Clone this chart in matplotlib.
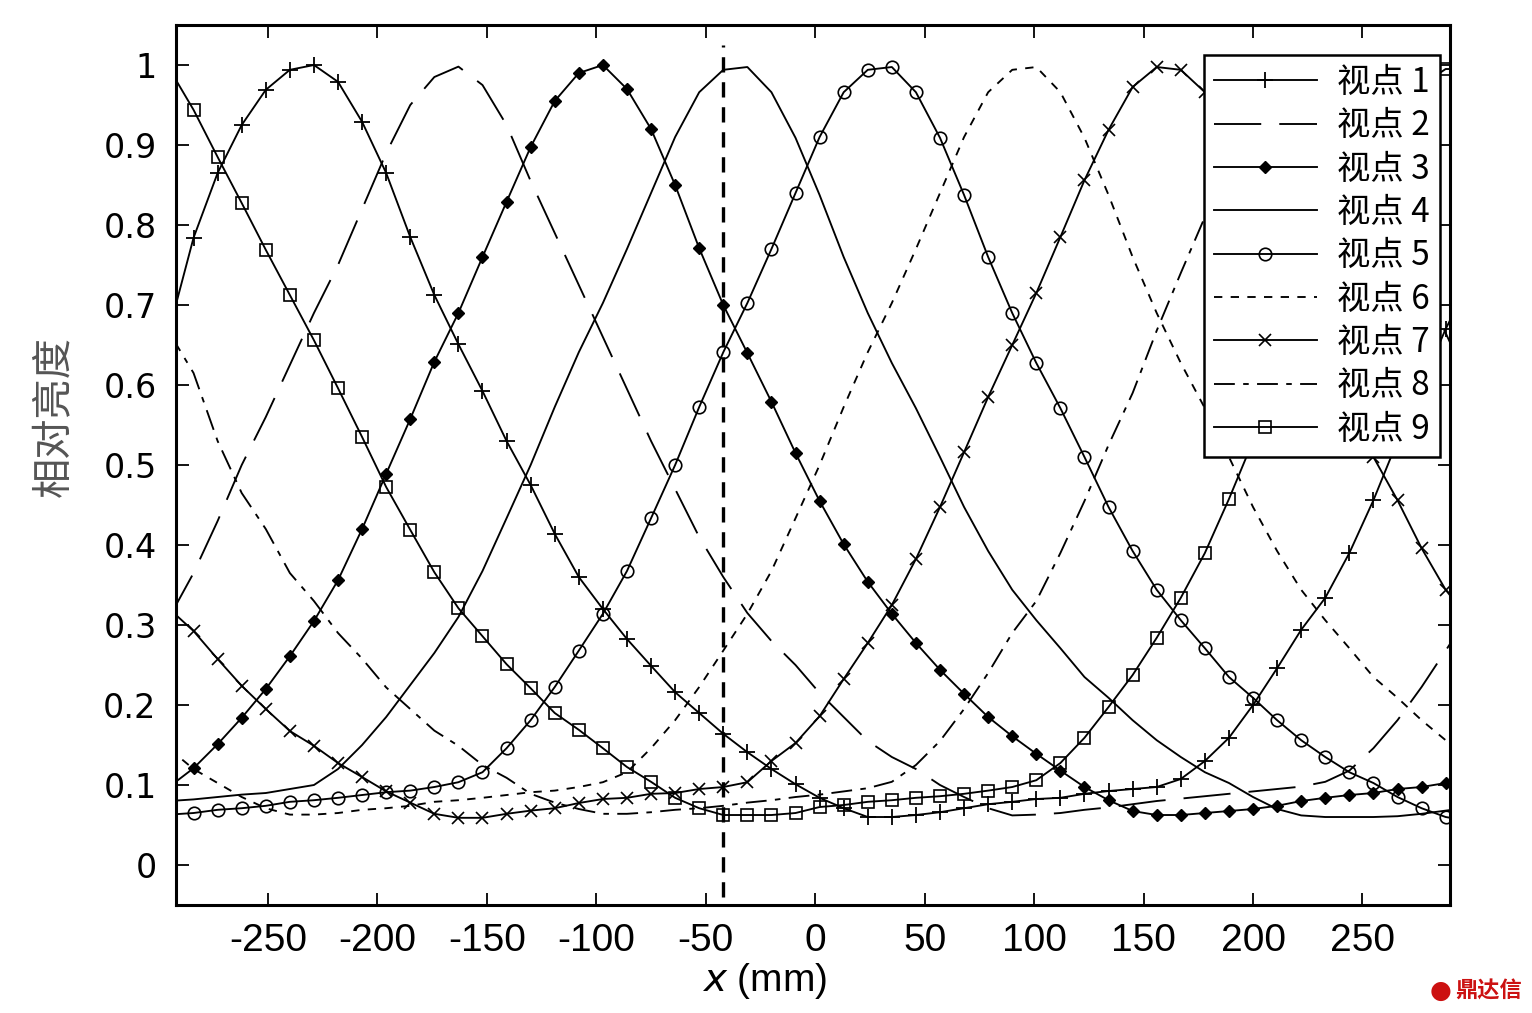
import matplotlib
matplotlib.use('Agg')
import matplotlib.pyplot as plt

plt.rcParams['lines.scale_dashes'] = False

# ---------------- data ----------------
x_mm = [-295, -284, -273, -262, -251, -240, -229, -218, -207, -196, -185, -174, -163, -152,
        -141, -130, -119, -108, -97, -86, -75, -64, -53, -42, -31, -20, -9, 2, 13, 24, 35,
        46, 57, 68, 79, 90, 101, 112, 123, 134, 145, 156, 167, 178, 189, 200, 211, 222, 233,
        244, 255, 266, 277, 288, 299]

view1 = [0.67, 0.784, 0.865, 0.925, 0.969, 0.994, 1.0, 0.979, 0.929, 0.865,
         0.785, 0.7125, 0.651, 0.5925, 0.53, 0.475, 0.414, 0.36, 0.32, 0.2825,
         0.249, 0.216, 0.19, 0.164, 0.141, 0.12, 0.101, 0.084, 0.071, 0.06,
         0.06, 0.0625, 0.066, 0.071, 0.076, 0.079, 0.0825, 0.084, 0.089, 0.0925,
         0.095, 0.0975, 0.1075, 0.13, 0.159, 0.2, 0.246, 0.294, 0.334, 0.39,
         0.456, 0.53, 0.60, 0.67, 0.73]
view2 = [0.31, 0.365, 0.43, 0.50, 0.56, 0.625, 0.69, 0.75, 0.82, 0.89,
         0.95, 0.985, 0.998, 0.975, 0.925, 0.855, 0.79, 0.725, 0.66, 0.595,
         0.53, 0.47, 0.41, 0.36, 0.315, 0.28, 0.25, 0.215, 0.185, 0.155,
         0.135, 0.12, 0.1, 0.085, 0.071, 0.062, 0.063, 0.065, 0.069, 0.072,
         0.076, 0.08, 0.083, 0.086, 0.089, 0.092, 0.095, 0.098, 0.104, 0.118,
         0.146, 0.181, 0.2225, 0.268, 0.314]
view3 = [0.098, 0.121, 0.151, 0.184, 0.22, 0.261, 0.305, 0.356, 0.42, 0.489,
         0.5575, 0.629, 0.69, 0.76, 0.829, 0.8975, 0.955, 0.99, 1.0, 0.97,
         0.92, 0.85, 0.771, 0.70, 0.64, 0.579, 0.515, 0.455, 0.401, 0.354,
         0.314, 0.2775, 0.244, 0.214, 0.185, 0.161, 0.139, 0.118, 0.0975, 0.081,
         0.0675, 0.0625, 0.0625, 0.065, 0.0675, 0.07, 0.074, 0.08, 0.084, 0.0875,
         0.09, 0.095, 0.0975, 0.1025, 0.106]
view4 = [0.08, 0.082, 0.085, 0.088, 0.09, 0.095, 0.1, 0.12, 0.15, 0.185,
         0.225, 0.265, 0.31, 0.3675, 0.4335, 0.5, 0.5725, 0.641, 0.7025, 0.77,
         0.84, 0.91, 0.966, 0.994, 0.9975, 0.966, 0.909, 0.8375, 0.76, 0.69,
         0.6275, 0.571, 0.51, 0.4475, 0.3925, 0.344, 0.306, 0.271, 0.235, 0.209,
         0.181, 0.156, 0.135, 0.116, 0.1025, 0.085, 0.07, 0.062, 0.06, 0.06,
         0.06, 0.061, 0.064, 0.068, 0.072]
view5 = [0.063, 0.065, 0.069, 0.071, 0.074, 0.079, 0.081, 0.084, 0.0875, 0.091,
         0.093, 0.0975, 0.1035, 0.116, 0.146, 0.181, 0.2225, 0.268, 0.314, 0.3675,
         0.4335, 0.5, 0.5725, 0.641, 0.7025, 0.77, 0.84, 0.91, 0.966, 0.994,
         0.9975, 0.966, 0.909, 0.8375, 0.76, 0.69, 0.6275, 0.571, 0.51, 0.4475,
         0.3925, 0.344, 0.306, 0.271, 0.235, 0.209, 0.181, 0.156, 0.135, 0.116,
         0.1025, 0.085, 0.071, 0.06, 0.055]
view6 = [0.145, 0.12, 0.1025, 0.085, 0.071, 0.063, 0.063, 0.065, 0.069, 0.071,
         0.074, 0.079, 0.081, 0.084, 0.0875, 0.091, 0.093, 0.0975, 0.1035, 0.116,
         0.146, 0.181, 0.2225, 0.268, 0.314, 0.3675, 0.4335, 0.5, 0.5725, 0.641,
         0.7025, 0.77, 0.84, 0.91, 0.966, 0.994, 0.9975, 0.966, 0.909, 0.8375,
         0.76, 0.69, 0.6275, 0.571, 0.51, 0.4475, 0.3925, 0.344, 0.306, 0.271,
         0.235, 0.209, 0.181, 0.156, 0.135]
view7 = [0.32, 0.2925, 0.2575, 0.224, 0.195, 0.1675, 0.149, 0.1275, 0.11, 0.092,
         0.078, 0.064, 0.059, 0.059, 0.064, 0.068, 0.071, 0.0775, 0.0825, 0.084,
         0.089, 0.09, 0.095, 0.0975, 0.1035, 0.13, 0.1525, 0.186, 0.2325, 0.2775,
         0.325, 0.3825, 0.4475, 0.516, 0.585, 0.65, 0.715, 0.785, 0.856, 0.919,
         0.9725, 0.9975, 0.994, 0.966, 0.909, 0.8375, 0.76, 0.69, 0.6275, 0.571,
         0.51, 0.456, 0.396, 0.344, 0.306]
view8 = [0.665, 0.615, 0.53, 0.465, 0.42, 0.365, 0.33, 0.29, 0.258, 0.222,
         0.195, 0.168, 0.149, 0.125, 0.109, 0.089, 0.078, 0.07, 0.064, 0.064,
         0.066, 0.069, 0.071, 0.074, 0.078, 0.081, 0.085, 0.088, 0.092, 0.096,
         0.104, 0.125, 0.155, 0.195, 0.24, 0.29, 0.33, 0.39, 0.455, 0.525,
         0.59, 0.668, 0.74, 0.81, 0.88, 0.94, 0.98, 0.997, 0.99, 0.95,
         0.88, 0.8, 0.73, 0.665, 0.6]
view9 = [0.995, 0.944, 0.885, 0.8275, 0.769, 0.7125, 0.656, 0.596, 0.535, 0.4725,
         0.419, 0.366, 0.321, 0.286, 0.251, 0.221, 0.19, 0.169, 0.146, 0.1225,
         0.104, 0.084, 0.071, 0.0625, 0.0625, 0.0625, 0.065, 0.0725, 0.075, 0.079,
         0.081, 0.084, 0.086, 0.089, 0.093, 0.0975, 0.106, 0.1275, 0.159, 0.1975,
         0.2375, 0.284, 0.334, 0.39, 0.4575, 0.53, 0.60, 0.67, 0.735, 0.80,
         0.87, 0.93, 0.975, 0.995, 0.995]

series = [view1, view2, view3, view4, view5, view6, view7, view8, view9]
labels = ['视点 1', '视点 2', '视点 3', '视点 4', '视点 5', '视点 6', '视点 7', '视点 8', '视点 9']

marker_x = [-42, -42]
marker_y = [-0.04, 1.025]

xticks = [-250, -200, -150, -100, -50, 0, 50, 100, 150, 200, 250]
yticks = [0, 0.1, 0.2, 0.3, 0.4, 0.5, 0.6, 0.7, 0.8, 0.9, 1]
ytick_labels = ['0', '0.1', '0.2', '0.3', '0.4', '0.5', '0.6', '0.7', '0.8', '0.9', '1']

# ---------------- styles ----------------
LW = 1.35
styles = [
    dict(ls='-', marker='+', ms=11, mew=1.3),
    dict(ls=(0, (34, 13))),
    dict(ls='-', marker='D', ms=6, mfc='k', mew=1.0),
    dict(ls='-'),
    dict(ls='-', marker='o', ms=9, mfc='none', mew=1.2),
    dict(ls=(0, (6, 6))),
    dict(ls='-', marker='x', ms=9, mew=1.2),
    dict(ls=(0, (15, 6, 4, 6))),
    dict(ls='-', marker='s', ms=9, mfc='none', mew=1.2),
]

cjk = ['Noto Sans CJK SC', 'DejaVu Sans']
narrow = ['Liberation Sans', 'DejaVu Sans']

fig = plt.figure(figsize=(15.32, 10.13), dpi=100)
ax = fig.add_axes([0.1149, 0.1066, 0.8316, 0.8687])

for vals, lab, st in zip(series, labels, styles):
    ax.plot(x_mm, vals, color='k', lw=LW, label=lab, **st)

ax.plot(marker_x, marker_y, color='k', lw=2.4, ls=(0, (11, 7)), label='_nolegend_')

ax.set_xlim(-292, 290)
ax.set_ylim(-0.05, 1.05)
ax.set_xticks(xticks)
ax.set_xticklabels([str(t) for t in xticks], family=narrow, fontsize=28)
ax.set_yticks(yticks)
ax.set_yticklabels(ytick_labels, family='DejaVu Sans', fontsize=24)
ax.tick_params(axis='both', direction='in', length=9, width=1.3, top=True, right=True)
ax.tick_params(axis='x', pad=13)
ax.tick_params(axis='y', pad=14)
for sp in ax.spines.values():
    sp.set_linewidth(2.2)

ax.set_ylabel('相对亮度', family=cjk, fontsize=29, color='#555555')
ax.yaxis.set_label_coords(-0.080, 0.555)
ax.set_xlabel(r'$\mathit{x}$ (mm)', family=narrow, fontsize=28)
ax.xaxis.set_label_coords(0.462, -0.064)

leg = ax.legend(loc='upper right', bbox_to_anchor=(0.992, 0.966), borderaxespad=0,
                prop={'family': cjk, 'size': 24}, frameon=True, fancybox=False,
                framealpha=1, edgecolor='k', handlelength=3.1, handletextpad=0.6,
                labelspacing=0.25, borderpad=0.3, numpoints=1)
leg.get_frame().set_linewidth(1.8)

fig.text(0.94, 0.022, '●', color='#cc1111', fontsize=18, ha='center', va='center')
fig.text(0.972, 0.022, '鼎达信', family=cjk, color='#cc1111', fontsize=16,
         fontweight='bold', ha='center', va='center')

fig.savefig('out.png', dpi=100)
